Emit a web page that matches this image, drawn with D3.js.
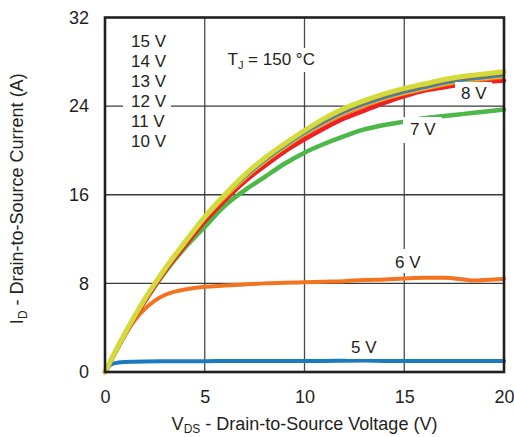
<!DOCTYPE html>
<html><head><meta charset="utf-8">
<script src="https://cdn.jsdelivr.net/npm/d3@7"></script>
<style>
html,body{margin:0;padding:0;background:#fff;}
svg{display:block;font-family:"Liberation Sans",Arial,sans-serif;}
</style></head>
<body><svg id="c" width="514" height="437"></svg>
<script>
// ---- data ----
const xTicks = [0, 5, 10, 15, 20];
const yTicks = [0, 8, 16, 24, 32];
const vds = [0,1,2,3,4,5,6,7,8,9,10,11,12,13,14,15,16,17,18,19,20];
const id15 = [0,3.5,6.6,9.3,11.7,14.0,16.0,17.8,19.3,20.6,21.8,22.9,23.8,24.5,25.1,25.6,26.0,26.4,26.7,26.9,27.1];
const id14 = [0,3.5,6.6,9.3,11.7,13.9,15.9,17.7,19.2,20.5,21.7,22.7,23.6,24.3,24.9,25.4,25.8,26.2,26.5,26.7,26.9];
const id13 = [0,3.5,6.5,9.2,11.6,13.9,15.9,17.6,19.1,20.4,21.6,22.6,23.5,24.2,24.8,25.3,25.7,26.1,26.4,26.6,26.8];
const id12 = [0,3.5,6.5,9.2,11.6,13.8,15.8,17.5,19.0,20.3,21.5,22.5,23.4,24.1,24.7,25.2,25.6,26.0,26.3,26.5,26.7];
const id11 = [0,3.4,6.5,9.2,11.5,13.8,15.7,17.4,18.9,20.2,21.4,22.4,23.3,24.0,24.6,25.1,25.5,25.9,26.2,26.4,26.6];
const id10 = [0,3.4,6.5,9.1,11.5,13.7,15.6,17.3,18.8,20.1,21.3,22.3,23.2,23.9,24.5,25.0,25.4,25.8,26.1,26.3,26.5];
const id8  = [0,3.4,6.4,9.1,11.4,13.6,15.5,17.2,18.6,19.9,21.0,22.0,22.9,23.6,24.3,24.9,25.4,25.7,26.0,26.2,26.3];
const id7  = [0,3.4,6.4,9.0,11.2,13.1,15.0,16.4,17.6,18.8,19.8,20.6,21.3,21.9,22.3,22.6,22.9,23.1,23.3,23.5,23.7];
const vds6 = [0,0.5,1,1.5,2,2.5,3,3.5,4,5,6,7,8,9,10,11,12,13,14,15,16,17,18,18.5,19,20];
const id6  = [0,1.75,3.35,4.7,5.7,6.45,6.95,7.25,7.45,7.7,7.8,7.9,8.0,8.05,8.1,8.15,8.2,8.3,8.35,8.45,8.5,8.5,8.35,8.25,8.3,8.4];
const vds5 = [0,0.25,0.5,1,1.5,2,3,4,5,6,7,8,9,10,11,12,13,14,15,16,17,18,19,20];
const id5  = [0,0.6,0.8,0.9,0.93,0.95,0.97,0.98,0.98,0.99,1.0,1.0,1.0,1.0,1.0,1.02,1.03,1.0,0.99,1.0,1.0,1.0,1.0,1.0];
const legendLabels = ["15 V","14 V","13 V","12 V","11 V","10 V"];

// ---- layout ----
const L = 105, R = 504, T = 17.5, B = 372;
const svg = d3.select("#c");
const x = d3.scaleLinear().domain([0,20]).range([L,R]);
const y = d3.scaleLinear().domain([0,32]).range([B,T]);

// grid
svg.append("g").selectAll("line").data(xTicks.slice(1,-1)).join("line")
  .attr("x1",d=>x(d)).attr("x2",d=>x(d)).attr("y1",T).attr("y2",B)
  .attr("stroke","#4a4a4a").attr("stroke-width",1.3);
svg.append("g").selectAll("line").data(yTicks.slice(1,-1)).join("line")
  .attr("y1",d=>y(d)).attr("y2",d=>y(d)).attr("x1",L).attr("x2",R)
  .attr("stroke","#3a3a3a").attr("stroke-width",1.3);

// curves
const line = d3.line().x(d=>x(d[0])).y(d=>y(d[1])).curve(d3.curveMonotoneX);
const zip = (a,b)=>a.map((v,i)=>[v,b[i]]);
const series = [
  {v:vds5, i:id5, c:"#1b7bc0", w:4},
  {v:vds6, i:id6, c:"#f37321", w:4},
  {v:vds,  i:id7, c:"#4cb848", w:4.5},
  {v:vds,  i:id8, c:"#ed2024", w:4.5},
  {v:vds,  i:id10,c:"#f15a29", w:1.5},
  {v:vds,  i:id11,c:"#f7b718", w:2},
  {v:vds,  i:id12,c:"#2a8ccf", w:1.8},
  {v:vds,  i:id13,c:"#6d6e71", w:1.5},
  {v:vds,  i:id14,c:"#8b6f47", w:1.5},
  {v:vds,  i:id15,c:"#d4da3a", w:5}
];
svg.append("g").selectAll("path").data(series).join("path")
  .attr("d",s=>line(zip(s.v,s.i))).attr("fill","none")
  .attr("stroke",s=>s.c).attr("stroke-width",s=>s.w)
  .attr("stroke-linejoin","round").attr("stroke-linecap","round");

// label boxes (white background) + text
function label(txt, tx, ty, box, size){
  svg.append("rect").attr("x",box[0]).attr("y",box[1]).attr("width",box[2]).attr("height",box[3]).attr("fill","#fff");
  svg.append("text").attr("x",tx).attr("y",ty).attr("font-size",size||17).attr("fill","#231f20").text(txt);
}
label("8 V", 461, 99, [455,82,37,21]);
label("7 V", 410, 135, [403,117,39,26]);
label("6 V", 395, 268, [392,249,31,24]);
label("5 V", 351, 352.5, [346,336,38,23]);
legendLabels.forEach((t,k)=>{
  label(t, 131, 47.3 + k*19.9, [123, 33 + k*19.9, 48, 18]);
});
// T_J label
svg.append("rect").attr("x",224).attr("y",48).attr("width",96).attr("height",24).attr("fill","#fff");
const tj = svg.append("text").attr("x",227.5).attr("y",65).attr("font-size",17).attr("fill","#231f20");
tj.append("tspan").text("T");
tj.append("tspan").attr("font-size",11).attr("dy",4).text("J");
tj.append("tspan").attr("dy",-4).text(" = 150 °C");

// frame
svg.append("rect").attr("x",L).attr("y",T).attr("width",R-L).attr("height",B-T)
  .attr("fill","none").attr("stroke","#231f20").attr("stroke-width",2.6);

// axes tick labels via d3 axes
const ax = svg.append("g").attr("transform",`translate(0,${B})`)
  .call(d3.axisBottom(x).tickValues(xTicks).tickSize(0).tickPadding(18).tickFormat(d3.format("d")));
const ay = svg.append("g").attr("transform",`translate(${L},0)`)
  .call(d3.axisLeft(y).tickValues(yTicks).tickSize(0).tickPadding(16).tickFormat(d3.format("d")));
[ax,ay].forEach(g=>{
  g.select(".domain").remove();
  g.selectAll("text").attr("font-size",18).attr("fill","#231f20")
   .attr("font-family","'Liberation Sans',Arial,sans-serif");
});

// axis titles
const xt = svg.append("text").attr("x",(L+R)/2).attr("y",430).attr("text-anchor","middle")
  .attr("font-size",18).attr("fill","#231f20");
xt.append("tspan").text("V");
xt.append("tspan").attr("font-size",12).attr("dy",3).text("DS");
xt.append("tspan").attr("dy",-3).text(" - Drain-to-Source Voltage (V)");

const yt = svg.append("text").attr("transform",`translate(23,${(T+B)/2+4}) rotate(-90)`)
  .attr("text-anchor","middle").attr("font-size",18).attr("fill","#231f20");
yt.append("tspan").text("I");
yt.append("tspan").attr("font-size",12).attr("dy",4).text("D");
yt.append("tspan").attr("dy",-4).text(" - Drain-to-Source Current (A)");
</script></body></html>
